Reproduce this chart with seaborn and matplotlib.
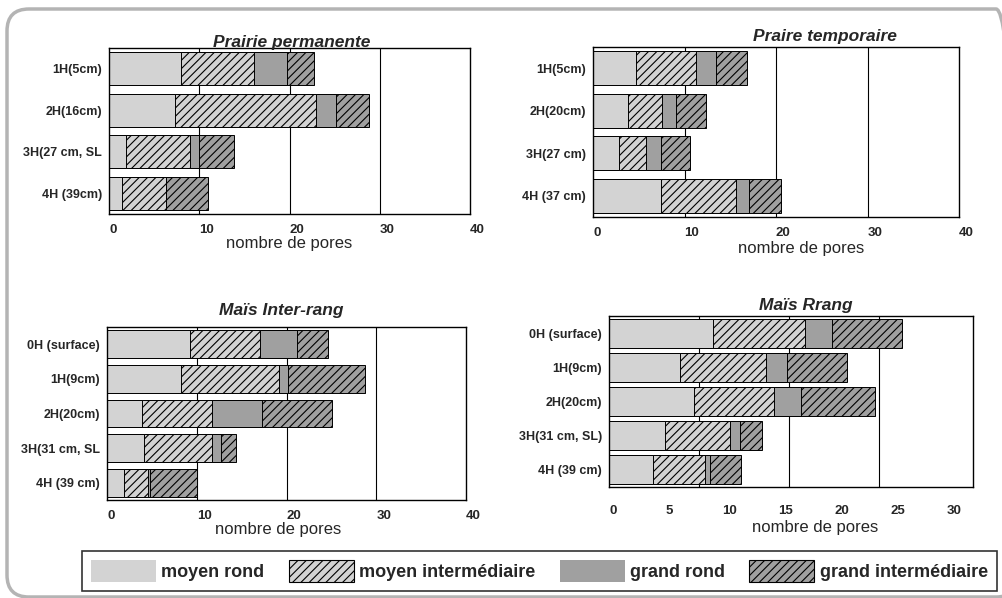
import matplotlib
matplotlib.use('Agg')
import numpy as np
import matplotlib.pyplot as plt
import seaborn as sns
from matplotlib.patches import Patch, FancyBboxPatch
from matplotlib.transforms import IdentityTransform

# classes de pores (ordre d'empilement)
categories = ['moyen rond', 'moyen intermédiaire', 'grand rond', 'grand intermédiaire']
colors = ['#d3d3d3', '#d3d3d3', '#a0a0a0', '#a0a0a0']
hatches = ['', '////', '', '////']

# Prairie permanente
pp_labels = ['1H(5cm)', '2H(16cm)', '3H(27 cm, SL', '4H (39cm)']
pp_moyen_rond = [8.0, 7.3, 1.9, 1.4]
pp_moyen_inter = [8.1, 15.6, 7.05, 4.9]
pp_grand_rond = [3.6, 2.2, 1.05, 0.0]
pp_grand_inter = [3.0, 3.7, 3.9, 4.7]

# Praire temporaire
pt_labels = ['1H(5cm)', '2H(20cm)', '3H(27 cm)', '4H (37 cm)']
pt_moyen_rond = [4.7, 3.8, 2.8, 7.4]
pt_moyen_inter = [6.6, 3.7, 3.0, 8.2]
pt_grand_rond = [2.1, 1.6, 1.6, 1.5]
pt_grand_inter = [3.4, 3.2, 3.2, 3.4]

# Maïs inter-rang
mi_labels = ['0H (surface)', '1H(9cm)', '2H(20cm)', '3H(31 cm, SL', '4H (39 cm)']
mi_moyen_rond = [9.2, 8.2, 3.9, 4.1, 1.9]
mi_moyen_inter = [7.9, 11.0, 7.8, 7.6, 2.7]
mi_grand_rond = [4.1, 1.0, 5.6, 1.0, 0.2]
mi_grand_inter = [3.4, 8.6, 7.8, 1.7, 5.2]

# Maïs rang
mr_labels = ['0H (surface)', '1H(9cm)', '2H(20cm)', '3H(31 cm, SL)', '4H (39 cm)']
mr_moyen_rond = [9.2, 6.3, 7.5, 5.0, 3.9]
mr_moyen_inter = [8.2, 7.6, 7.1, 5.7, 4.6]
mr_grand_rond = [2.4, 1.9, 2.4, 0.9, 0.5]
mr_grand_inter = [6.2, 5.3, 6.6, 2.0, 2.7]

sns.set_style('white')
plt.rcParams['font.family'] = ['Liberation Sans', 'DejaVu Sans']
plt.rcParams['hatch.linewidth'] = 0.8
plt.rcParams['hatch.color'] = 'black'

W, H = 1002, 598
fig = plt.figure(figsize=(W / 100, H / 100), dpi=100)


def px_axes(left, top, right, bottom):
    return fig.add_axes([left / W, 1 - bottom / H, (right - left) / W, (bottom - top) / H])


def stacked(ax, labels, parts, width):
    cum = np.cumsum(np.array(parts), axis=0)
    # on dessine du total vers la première classe, chaque couche recouvre la précédente
    for k in range(len(parts) - 1, -1, -1):
        n0 = len(ax.patches)
        sns.barplot(x=cum[k], y=labels, orient='h', color=colors[k], saturation=1,
                    edgecolor='black', linewidth=0.7, width=width,
                    errorbar=None, ax=ax, zorder=2)
        for p in ax.patches[n0:]:
            p.set_hatch(hatches[k])


def style(ax, title, title_x, title_pad, xmax, ticks, grid, tick_pad, xlabel_pos):
    ax.set_xlim(0, xmax)
    for g in grid:
        ax.axvline(g, color='black', lw=0.8, zorder=0.5)
    ax.set_xticks(ticks)
    ax.set_xticklabels([str(t) for t in ticks], fontweight='bold', fontsize=9.5, ha='left')
    ax.tick_params(axis='x', length=0, pad=tick_pad)
    ax.tick_params(axis='y', length=0, pad=5)
    for lab in ax.get_yticklabels():
        lab.set_fontweight('bold')
        lab.set_fontsize(9)
    ax.set_ylabel('')
    ax.set_xlabel('nombre de pores', fontsize=12)
    ax.xaxis.set_label_coords(*xlabel_pos)
    ax.xaxis.label.set_va('top')
    ax.set_title(title, fontsize=12.5, fontweight='bold', fontstyle='italic',
                 x=title_x, pad=title_pad)
    for s in ax.spines.values():
        s.set_color('black')
        s.set_linewidth(1.0)
        s.set_visible(True)


ax1 = px_axes(109, 48, 470, 214)
stacked(ax1, pp_labels, [pp_moyen_rond, pp_moyen_inter, pp_grand_rond, pp_grand_inter], 0.8)
style(ax1, 'Prairie permanente', 0.507, 1, 40, [0, 10, 20, 30, 40], [10, 20, 30], 7,
      (0.5, -0.135))

ax2 = px_axes(593, 47, 959, 217)
stacked(ax2, pt_labels, [pt_moyen_rond, pt_moyen_inter, pt_grand_rond, pt_grand_inter], 0.8)
style(ax2, 'Praire temporaire', 0.634, 4, 40, [0, 10, 20, 30, 40], [10, 20, 30], 7,
      (0.568, -0.14))

ax3 = px_axes(107, 327, 466, 500)
stacked(ax3, mi_labels, [mi_moyen_rond, mi_moyen_inter, mi_grand_rond, mi_grand_inter], 0.8)
style(ax3, 'Maïs Inter-rang', 0.486, 9, 40, [0, 10, 20, 30, 40], [10, 20, 30], 7,
      (0.476, -0.13))

ax4 = px_axes(609, 316, 973, 487)
stacked(ax4, mr_labels, [mr_moyen_rond, mr_moyen_inter, mr_grand_rond, mr_grand_inter], 0.85)
style(ax4, 'Maïs Rrang', 0.541, 4, 32.3, [0, 5, 10, 15, 20, 25, 30], [8, 16, 24], 13,
      (0.566, -0.195))

# légende commune
handles = [Patch(facecolor=colors[k], edgecolor='black' if hatches[k] else 'none',
                 hatch=hatches[k], linewidth=0.8) for k in range(4)]
leg = fig.legend(handles, categories, loc='lower left',
                 bbox_to_anchor=(82 / W, 1 - 591 / H, 915 / W, 46 / H), mode='expand',
                 ncol=4, frameon=True, fancybox=False, edgecolor='black',
                 prop=dict(weight='bold', size=13), handlelength=3.6, handleheight=1.5,
                 handletextpad=0.3, borderaxespad=0, borderpad=0.5)
leg.get_frame().set_linewidth(1.2)

# cadre arrondi autour de la figure
frame = FancyBboxPatch((7, 1), 1011, 588, boxstyle='round,pad=0,rounding_size=22',
                       transform=IdentityTransform(), facecolor='none',
                       edgecolor='#b4b4b4', linewidth=2.5)
fig.add_artist(frame)

fig.savefig('out.png', dpi=100)
